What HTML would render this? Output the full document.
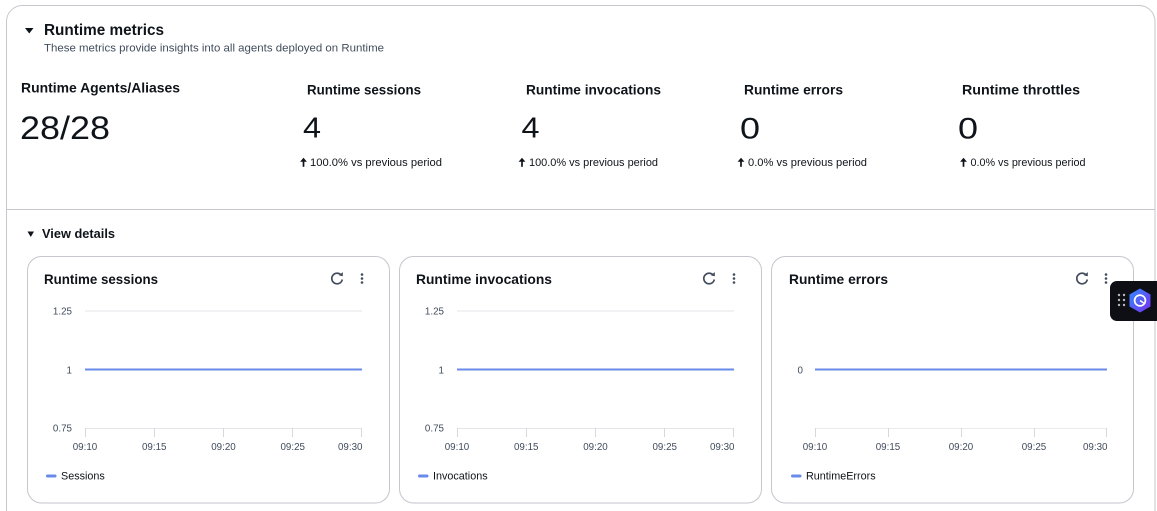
<!DOCTYPE html>
<html>
<head>
<meta charset="utf-8">
<style>
  html,body{margin:0;padding:0;background:#fff;}
  body{width:1157px;height:511px;overflow:hidden;}
  svg{display:block;}
  text{font-family:"Liberation Sans", Arial, sans-serif;}
</style>
</head>
<body>
<svg width="1157" height="511" viewBox="0 0 1157 511" xmlns="http://www.w3.org/2000/svg">
  <defs>
    <linearGradient id="hexg" x1="0" y1="0" x2="1" y2="1">
      <stop offset="0" stop-color="#2f8cff"/>
      <stop offset="1" stop-color="#7b2ff0"/>
    </linearGradient>
    <g id="uparrow">
      <path d="M0,-5 L0,2.8" stroke="#0f141a" stroke-width="1.7"/>
      <path d="M-3.4,-2.2 L0,-6.2 L3.4,-2.2 Z" fill="#0f141a"/>
    </g>
    <g id="refresh">
      <path d="M4.6,-2.8 A5.3,5.3 0 1 0 5.3,1" fill="none" stroke="#414d5c" stroke-width="1.7"/>
      <path d="M1.8,-3.2 L5.8,-2.2 L5.8,-6.4 Z" fill="#414d5c"/>
    </g>
    <g id="kebab" fill="#414d5c">
      <circle cx="0" cy="-4" r="1.3"/>
      <circle cx="0" cy="0" r="1.3"/>
      <circle cx="0" cy="4" r="1.3"/>
    </g>
  </defs>

  <!-- outer card -->
  <path d="M6.5,511 L6.5,21.5 A16,16 0 0 1 22.5,5.5 L1139,5.5 A16,16 0 0 1 1155,21.5 L1155,511" fill="#fff" stroke="#c6c6cd" stroke-width="1"/>
  <line x1="6.5" y1="209.5" x2="1155" y2="209.5" stroke="#c6c6cd" stroke-width="1"/>

  <!-- header -->
  <polygon points="25,28 33.5,28 29.25,33.5" fill="#0f141a"/>
  <text x="44" y="35" font-size="15.5" font-weight="bold" fill="#0f141a" textLength="120" lengthAdjust="spacingAndGlyphs">Runtime metrics</text>
  <text x="44" y="51.5" font-size="11" fill="#414d5c" textLength="340" lengthAdjust="spacingAndGlyphs">These metrics provide insights into all agents deployed on Runtime</text>

  <!-- stats -->
  <text x="21" y="92.7" font-size="13.6" font-weight="bold" fill="#0f141a" textLength="159" lengthAdjust="spacingAndGlyphs">Runtime Agents/Aliases</text>
  <text x="20" y="139" font-size="32" fill="#0f141a" textLength="90" lengthAdjust="spacingAndGlyphs">28/28</text>

  <text x="307" y="94.3" font-size="13.6" font-weight="bold" fill="#0f141a" textLength="114" lengthAdjust="spacingAndGlyphs">Runtime sessions</text>
  <text x="303" y="137.5" font-size="29" fill="#0f141a" textLength="18" lengthAdjust="spacingAndGlyphs">4</text>
  <use href="#uparrow" x="303.5" y="164"/>
  <text x="310" y="166" font-size="11" fill="#0f141a" textLength="132" lengthAdjust="spacingAndGlyphs">100.0% vs previous period</text>

  <text x="526" y="94.3" font-size="13.6" font-weight="bold" fill="#0f141a" textLength="135" lengthAdjust="spacingAndGlyphs">Runtime invocations</text>
  <text x="521.5" y="137.5" font-size="29" fill="#0f141a" textLength="18" lengthAdjust="spacingAndGlyphs">4</text>
  <use href="#uparrow" x="522" y="164"/>
  <text x="529" y="166" font-size="11" fill="#0f141a" textLength="129" lengthAdjust="spacingAndGlyphs">100.0% vs previous period</text>

  <text x="744" y="94.3" font-size="13.6" font-weight="bold" fill="#0f141a" textLength="99" lengthAdjust="spacingAndGlyphs">Runtime errors</text>
  <text x="740" y="138.3" font-size="30" fill="#0f141a" textLength="20" lengthAdjust="spacingAndGlyphs">0</text>
  <use href="#uparrow" x="741" y="164"/>
  <text x="748" y="166" font-size="11" fill="#0f141a" textLength="119" lengthAdjust="spacingAndGlyphs">0.0% vs previous period</text>

  <text x="962" y="94.3" font-size="13.6" font-weight="bold" fill="#0f141a" textLength="118" lengthAdjust="spacingAndGlyphs">Runtime throttles</text>
  <text x="958" y="138.3" font-size="30" fill="#0f141a" textLength="20" lengthAdjust="spacingAndGlyphs">0</text>
  <use href="#uparrow" x="963.5" y="164"/>
  <text x="970.5" y="166" font-size="11" fill="#0f141a" textLength="115" lengthAdjust="spacingAndGlyphs">0.0% vs previous period</text>

  <!-- view details -->
  <polygon points="27.5,231.5 34,231.5 30.75,237" fill="#0f141a"/>
  <text x="42" y="238" font-size="12.5" font-weight="bold" fill="#0f141a" textLength="73" lengthAdjust="spacingAndGlyphs">View details</text>

  <!-- card 1 -->
  <rect x="27.5" y="256.5" width="362" height="246.5" rx="14" ry="14" fill="#fff" stroke="#c6c6cd" stroke-width="1"/>
  <text x="44" y="284.2" font-size="13.6" font-weight="bold" fill="#0f141a" textLength="114" lengthAdjust="spacingAndGlyphs">Runtime sessions</text>
  <use href="#refresh" x="337" y="278.5"/>
  <use href="#kebab" x="362" y="278.5"/>
  <line x1="85" y1="311" x2="362" y2="311" stroke="#e9ebed" stroke-width="1.2"/>
  <line x1="85" y1="428.5" x2="362" y2="428.5" stroke="#e3e5e8" stroke-width="1"/>
  <g stroke="#d5d8dc" stroke-width="1">
    <line x1="85.5" y1="428" x2="85.5" y2="437"/>
    <line x1="154.5" y1="428" x2="154.5" y2="437"/>
    <line x1="223.5" y1="428" x2="223.5" y2="437"/>
    <line x1="292.5" y1="428" x2="292.5" y2="437"/>
    <line x1="361.5" y1="428" x2="361.5" y2="437"/>
  </g>
  <line x1="85" y1="369.5" x2="362" y2="369.5" stroke="#688ae8" stroke-width="2"/>
  <g font-size="9.8" fill="#414d5c">
    <text x="72" y="314.5" text-anchor="end">1.25</text>
    <text x="72" y="373.5" text-anchor="end">1</text>
    <text x="72" y="431.5" text-anchor="end">0.75</text>
    <text x="85" y="450" text-anchor="middle">09:10</text>
    <text x="154.25" y="450" text-anchor="middle">09:15</text>
    <text x="223.5" y="450" text-anchor="middle">09:20</text>
    <text x="292.75" y="450" text-anchor="middle">09:25</text>
    <text x="362.5" y="450" text-anchor="end">09:30</text>
  </g>
  <rect x="46" y="474.5" width="10.5" height="3" rx="1.5" fill="#688ae8"/>
  <text x="61" y="479.3" font-size="10.8" fill="#0f141a">Sessions</text>

  <!-- card 2 -->
  <rect x="399.5" y="256.5" width="362" height="246.5" rx="14" ry="14" fill="#fff" stroke="#c6c6cd" stroke-width="1"/>
  <text x="416" y="284.2" font-size="13.6" font-weight="bold" fill="#0f141a" textLength="136" lengthAdjust="spacingAndGlyphs">Runtime invocations</text>
  <use href="#refresh" x="709" y="278.5"/>
  <use href="#kebab" x="734" y="278.5"/>
  <line x1="457" y1="311" x2="734" y2="311" stroke="#e9ebed" stroke-width="1.2"/>
  <line x1="457" y1="428.5" x2="734" y2="428.5" stroke="#e3e5e8" stroke-width="1"/>
  <g stroke="#d5d8dc" stroke-width="1">
    <line x1="457.5" y1="428" x2="457.5" y2="437"/>
    <line x1="526.5" y1="428" x2="526.5" y2="437"/>
    <line x1="595.5" y1="428" x2="595.5" y2="437"/>
    <line x1="664.5" y1="428" x2="664.5" y2="437"/>
    <line x1="733.5" y1="428" x2="733.5" y2="437"/>
  </g>
  <line x1="457" y1="369.5" x2="734" y2="369.5" stroke="#688ae8" stroke-width="2"/>
  <g font-size="9.8" fill="#414d5c">
    <text x="444" y="314.5" text-anchor="end">1.25</text>
    <text x="444" y="373.5" text-anchor="end">1</text>
    <text x="444" y="431.5" text-anchor="end">0.75</text>
    <text x="457" y="450" text-anchor="middle">09:10</text>
    <text x="526.25" y="450" text-anchor="middle">09:15</text>
    <text x="595.5" y="450" text-anchor="middle">09:20</text>
    <text x="664.75" y="450" text-anchor="middle">09:25</text>
    <text x="734.5" y="450" text-anchor="end">09:30</text>
  </g>
  <rect x="418" y="474.5" width="10.5" height="3" rx="1.5" fill="#688ae8"/>
  <text x="433" y="479.3" font-size="10.8" fill="#0f141a">Invocations</text>

  <!-- card 3 -->
  <rect x="771.5" y="256.5" width="362" height="246.5" rx="14" ry="14" fill="#fff" stroke="#c6c6cd" stroke-width="1"/>
  <text x="789" y="284.2" font-size="13.6" font-weight="bold" fill="#0f141a" textLength="99" lengthAdjust="spacingAndGlyphs">Runtime errors</text>
  <use href="#refresh" x="1082" y="278.5"/>
  <use href="#kebab" x="1106" y="278.5"/>
  <line x1="815" y1="428.5" x2="1107" y2="428.5" stroke="#e9ebed" stroke-width="1"/>
  <g stroke="#d5d8dc" stroke-width="1">
    <line x1="815.5" y1="428" x2="815.5" y2="437"/>
    <line x1="888.5" y1="428" x2="888.5" y2="437"/>
    <line x1="961.5" y1="428" x2="961.5" y2="437"/>
    <line x1="1034.5" y1="428" x2="1034.5" y2="437"/>
    <line x1="1106.5" y1="428" x2="1106.5" y2="437"/>
  </g>
  <line x1="815" y1="369.5" x2="1107" y2="369.5" stroke="#688ae8" stroke-width="2"/>
  <g font-size="9.8" fill="#414d5c">
    <text x="803" y="373.5" text-anchor="end">0</text>
    <text x="815" y="450" text-anchor="middle">09:10</text>
    <text x="888" y="450" text-anchor="middle">09:15</text>
    <text x="961" y="450" text-anchor="middle">09:20</text>
    <text x="1034" y="450" text-anchor="middle">09:25</text>
    <text x="1107.5" y="450" text-anchor="end">09:30</text>
  </g>
  <rect x="791" y="474.5" width="10.5" height="3" rx="1.5" fill="#688ae8"/>
  <text x="806" y="479.3" font-size="10.8" fill="#0f141a">RuntimeErrors</text>

  <!-- floating widget -->
  <rect x="1110" y="281" width="60" height="40" rx="7" ry="7" fill="#0d0f14"/>
  <g fill="#b5b9c0">
    <circle cx="1119" cy="295" r="1.2"/><circle cx="1124" cy="295" r="1.2"/>
    <circle cx="1119" cy="300" r="1.2"/><circle cx="1124" cy="300" r="1.2"/>
    <circle cx="1119" cy="305" r="1.2"/><circle cx="1124" cy="305" r="1.2"/>
  </g>
  <polygon points="1140,288.5 1150.5,294.5 1150.5,306.5 1140,312.5 1129.5,306.5 1129.5,294.5" fill="url(#hexg)"/>
  <circle cx="1140" cy="300.5" r="5.4" fill="none" stroke="#fff" stroke-width="1.7"/>
  <line x1="1140" y1="300.5" x2="1143.8" y2="303.2" stroke="#fff" stroke-width="1.5"/>
</svg>
</body>
</html>
